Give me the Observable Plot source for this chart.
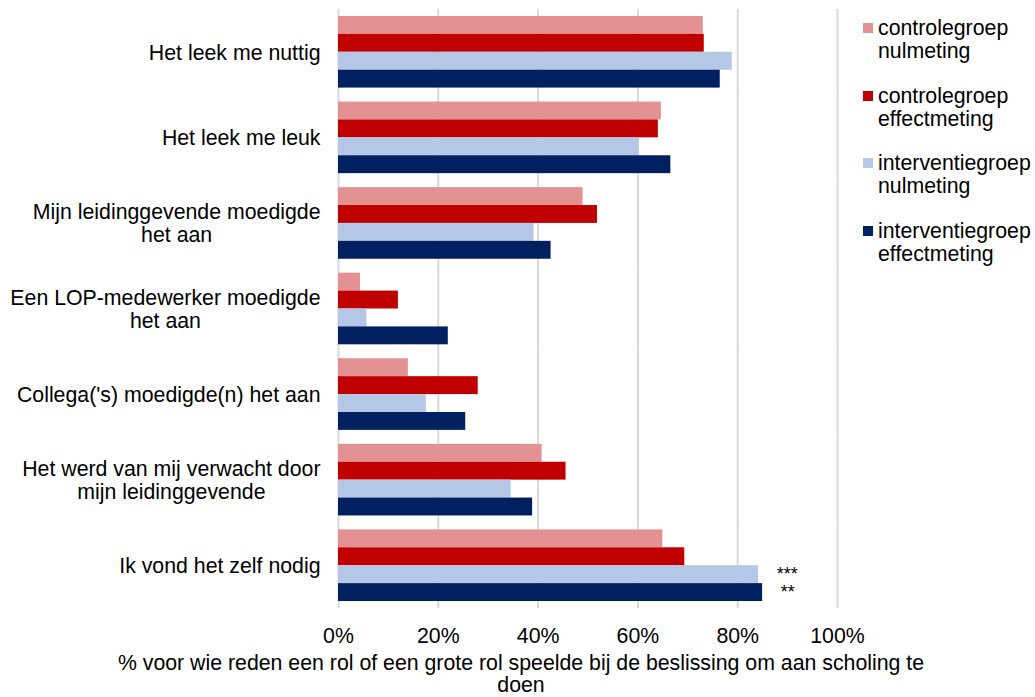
<!DOCTYPE html>
<html>
<head>
<meta charset="utf-8">
<script src="https://cdn.jsdelivr.net/npm/d3@7"></script>
<script src="https://cdn.jsdelivr.net/npm/@observablehq/plot@0.6"></script>
<style>
  html, body { margin: 0; padding: 0; background: #fff; overflow: hidden; }
  body { font-family: "Liberation Sans", Arial, sans-serif; color: #000; }
  #wrap { position: relative; width: 1035px; height: 697px; }
  #legend { position: absolute; left: 863px; top: 17px; font-size: 21.3px; line-height: 23px; }
  .item { display: flex; align-items: flex-start; margin-bottom: 21.5px; }
  .sw { width: 10px; height: 10px; margin-top: 6px; margin-right: 5px; flex: none; }
  #caption { width: 1042px; text-align: center; font-size: 21.3px; line-height: 22px; padding-top: 2px; }
</style>
</head>
<body>
<div id="wrap">
  <div id="chart"></div>
  <div id="caption"></div>
  <div id="legend"></div>
</div>
<script>
// ---- data ----
const categories = [
  "Het leek me nuttig",
  "Het leek me leuk",
  "Mijn leidinggevende moedigde\nhet aan",
  "Een LOP-medewerker moedigde\nhet aan",
  "Collega('s) moedigde(n) het aan",
  "Het werd van mij verwacht door\nmijn leidinggevende",
  "Ik vond het zelf nodig"
];
const series = [
  "controlegroep nulmeting",
  "controlegroep effectmeting",
  "interventiegroep nulmeting",
  "interventiegroep effectmeting"
];
const legendLines = [
  ["controlegroep", "nulmeting"],
  ["controlegroep", "effectmeting"],
  ["interventiegroep", "nulmeting"],
  ["interventiegroep", "effectmeting"]
];
const controleNul       = [73.1, 64.7, 49.0,  4.4, 14.0, 40.8, 65.0];
const controleEffect    = [73.3, 64.1, 51.9, 12.0, 28.0, 45.6, 69.4];
const interventieNul    = [78.9, 60.3, 39.2,  5.7, 17.6, 34.6, 84.2];
const interventieEffect = [76.5, 66.6, 42.6, 22.0, 25.5, 38.9, 85.0];
const colors = ["#E39192", "#C00000", "#B4C7E7", "#002060"];
const xTicks = [0, 20, 40, 60, 80, 100];
const significance = [
  {categoryIndex: 6, seriesIndex: 2, label: "***"},
  {categoryIndex: 6, seriesIndex: 3, label: "**"}
];
const axisTitle = ["% voor wie reden een rol of een grote rol speelde bij de beslissing om aan scholing te", "doen"];

// ---- build table ----
const valuesBySeries = [controleNul, controleEffect, interventieNul, interventieEffect];
const data = [];
categories.forEach((c, i) => {
  series.forEach((s, j) => {
    data.push({category: c, series: s, value: valuesBySeries[j][i]});
  });
});
const sigData = significance.map(d => ({
  category: categories[d.categoryIndex],
  series: series[d.seriesIndex],
  value: valuesBySeries[d.seriesIndex][d.categoryIndex],
  label: d.label
}));

const FS = 21.3;
const chart = Plot.plot({
  width: 1035,
  height: 650,
  marginLeft: 338,
  marginRight: 198,
  marginTop: 9,
  marginBottom: 42,
  style: {fontFamily: "Liberation Sans, Arial, sans-serif", fontSize: FS + "px", color: "#000", background: "#fff"},
  x: {domain: [0, 100]},
  y: {domain: series, paddingInner: 0, paddingOuter: 0.39, round: false, axis: null},
  fy: {domain: categories, padding: 0, round: false},
  color: {domain: series, range: colors},
  marks: [
    Plot.ruleX(xTicks, {stroke: "#d9d9d9", strokeWidth: 2}),
    Plot.barX(data, {x: "value", y: "series", fy: "category", fill: "series", inset: 0}),
    Plot.text(sigData, {x: "value", y: "series", fy: "category", text: "label", textAnchor: "start", dx: 18, fontSize: 18, fill: "#000"}),
    Plot.axisX({ticks: xTicks, tickFormat: d => d + "%", tickSize: 0, tickPadding: 19, label: null, fontSize: FS, fill: "#000"}),
    Plot.axisFy({anchor: "left", tickSize: 0, tickPadding: 18, label: null, fontSize: FS, lineHeight: 1.08, fill: "#000"})
  ]
});
document.getElementById("chart").appendChild(chart);

// center multi-line category labels inside their right-aligned box
chart.querySelectorAll('g[aria-label="fy-axis tick label"] text').forEach(t => {
  if (t.querySelectorAll("tspan").length > 1) {
    const w = t.getBBox().width;
    t.setAttribute("text-anchor", "middle");
    const tr = t.getAttribute("transform") || "";
    t.setAttribute("transform", tr + ` translate(${-w / 2},0)`);
  }
});

// caption (axis title)
const cap = document.getElementById("caption");
axisTitle.forEach(line => { const d = document.createElement("div"); d.textContent = line; cap.appendChild(d); });

// legend
const legend = document.getElementById("legend");
series.forEach((s, i) => {
  const item = document.createElement("div");
  item.className = "item";
  const sw = document.createElement("div");
  sw.className = "sw";
  sw.style.background = colors[i];
  const txt = document.createElement("div");
  legendLines[i].forEach(l => { const d = document.createElement("div"); d.textContent = l; txt.appendChild(d); });
  item.appendChild(sw); item.appendChild(txt);
  legend.appendChild(item);
});
</script>
</body>
</html>
